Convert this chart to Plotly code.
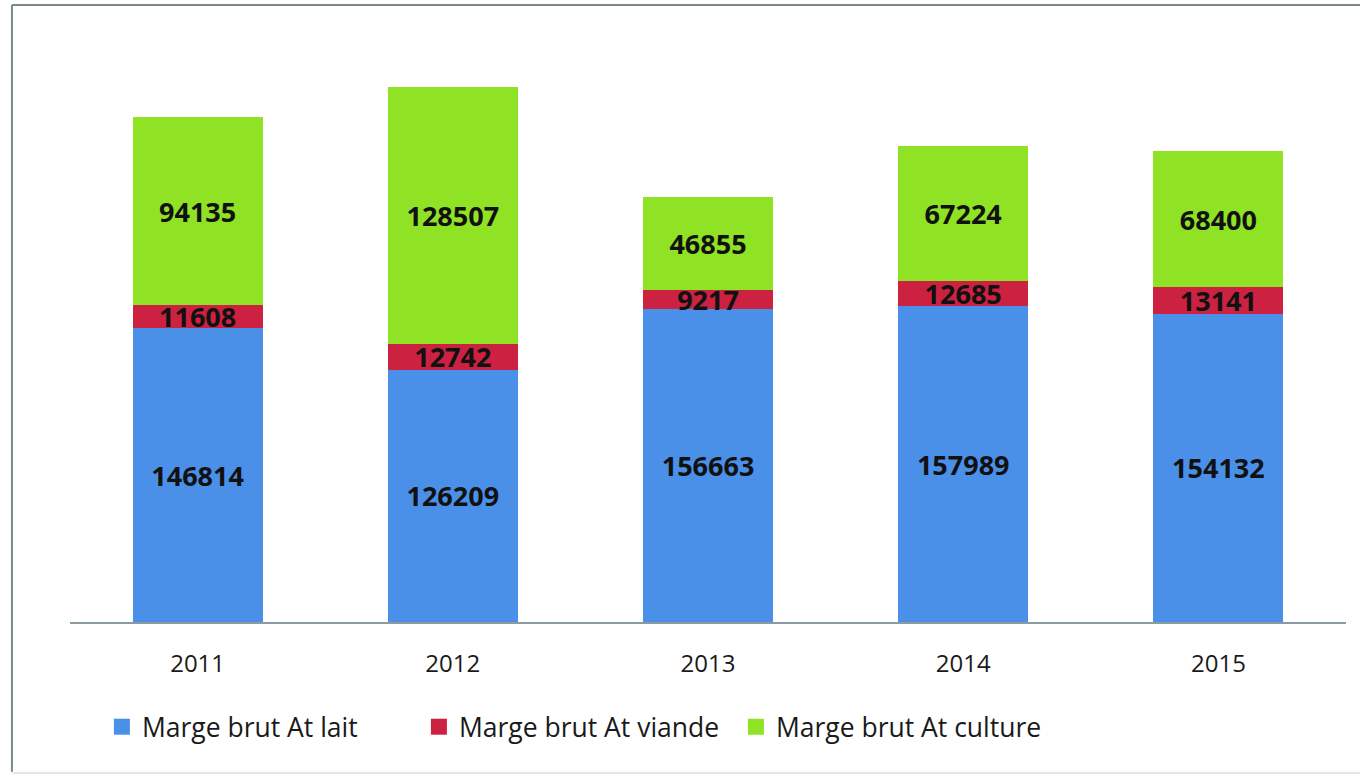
import plotly.graph_objects as go

years = ["2011", "2012", "2013", "2014", "2015"]
lait = [146814, 126209, 156663, 157989, 154132]
viande = [11608, 12742, 9217, 12685, 13141]
culture = [94135, 128507, 46855, 67224, 68400]

series = [
    ("Marge brut At lait", lait, "#4a90e8"),
    ("Marge brut At viande", viande, "#cd2141"),
    ("Marge brut At culture", culture, "#8fe224"),
]

FONT = "Open Sans"
fig = go.Figure()
for name, vals, col in series:
    fig.add_trace(go.Bar(
        x=years, y=vals, name=name, marker=dict(color=col, line=dict(width=0)),
        text=[str(v) for v in vals], textposition="inside", insidetextanchor="middle",
        textangle=0, constraintext="none",
        textfont=dict(family=FONT, size=27, color="#111111", weight="bold"),
        showlegend=False, hoverinfo="skip",
    ))
for name, vals, col in series:
    fig.add_trace(go.Scatter(
        x=[None], y=[None], mode="markers", name=name,
        marker=dict(symbol="square", size=17, color=col), showlegend=True,
    ))

fig.update_layout(
    width=1360, height=776, barmode="stack", bargap=0.49,
    paper_bgcolor="white", plot_bgcolor="white",
    margin=dict(l=70, r=14, t=42, b=154),
    xaxis=dict(showline=True, linecolor="#8c9aa2", linewidth=1.5, ticks="",
               tickfont=dict(family=FONT, size=24, color="#1a1a1a"),
               ticklabelstandoff=19, showgrid=False, fixedrange=True),
    yaxis=dict(range=[0, 290000], visible=False, showgrid=False, fixedrange=True),
    legend=dict(orientation="h", x=0.025, xanchor="left", y=-0.181, yanchor="middle",
                traceorder="normal",
                font=dict(family=FONT, size=26.5, color="#1a1a1a"),
                entrywidth=272, itemwidth=30, bgcolor="rgba(0,0,0,0)"),
    showlegend=True,
)

border = "#7b898d"
fig.add_shape(type="line", xref="paper", yref="paper", x0=-0.0455, x1=1.02, y0=1.0638, y1=1.0638,
              line=dict(color=border, width=2))
fig.add_shape(type="line", xref="paper", yref="paper", x0=-0.0455, x1=-0.0455, y0=1.0638, y1=-0.258,
              line=dict(color=border, width=2))
fig.add_shape(type="line", xref="paper", yref="paper", x0=-0.0455, x1=1.02, y0=-0.2603, y1=-0.2603,
              line=dict(color="#e3e7e9", width=2))

fig.write_html("out.html", config={"displayModeBar": False},
               post_script="document.body.style.margin='0';")
